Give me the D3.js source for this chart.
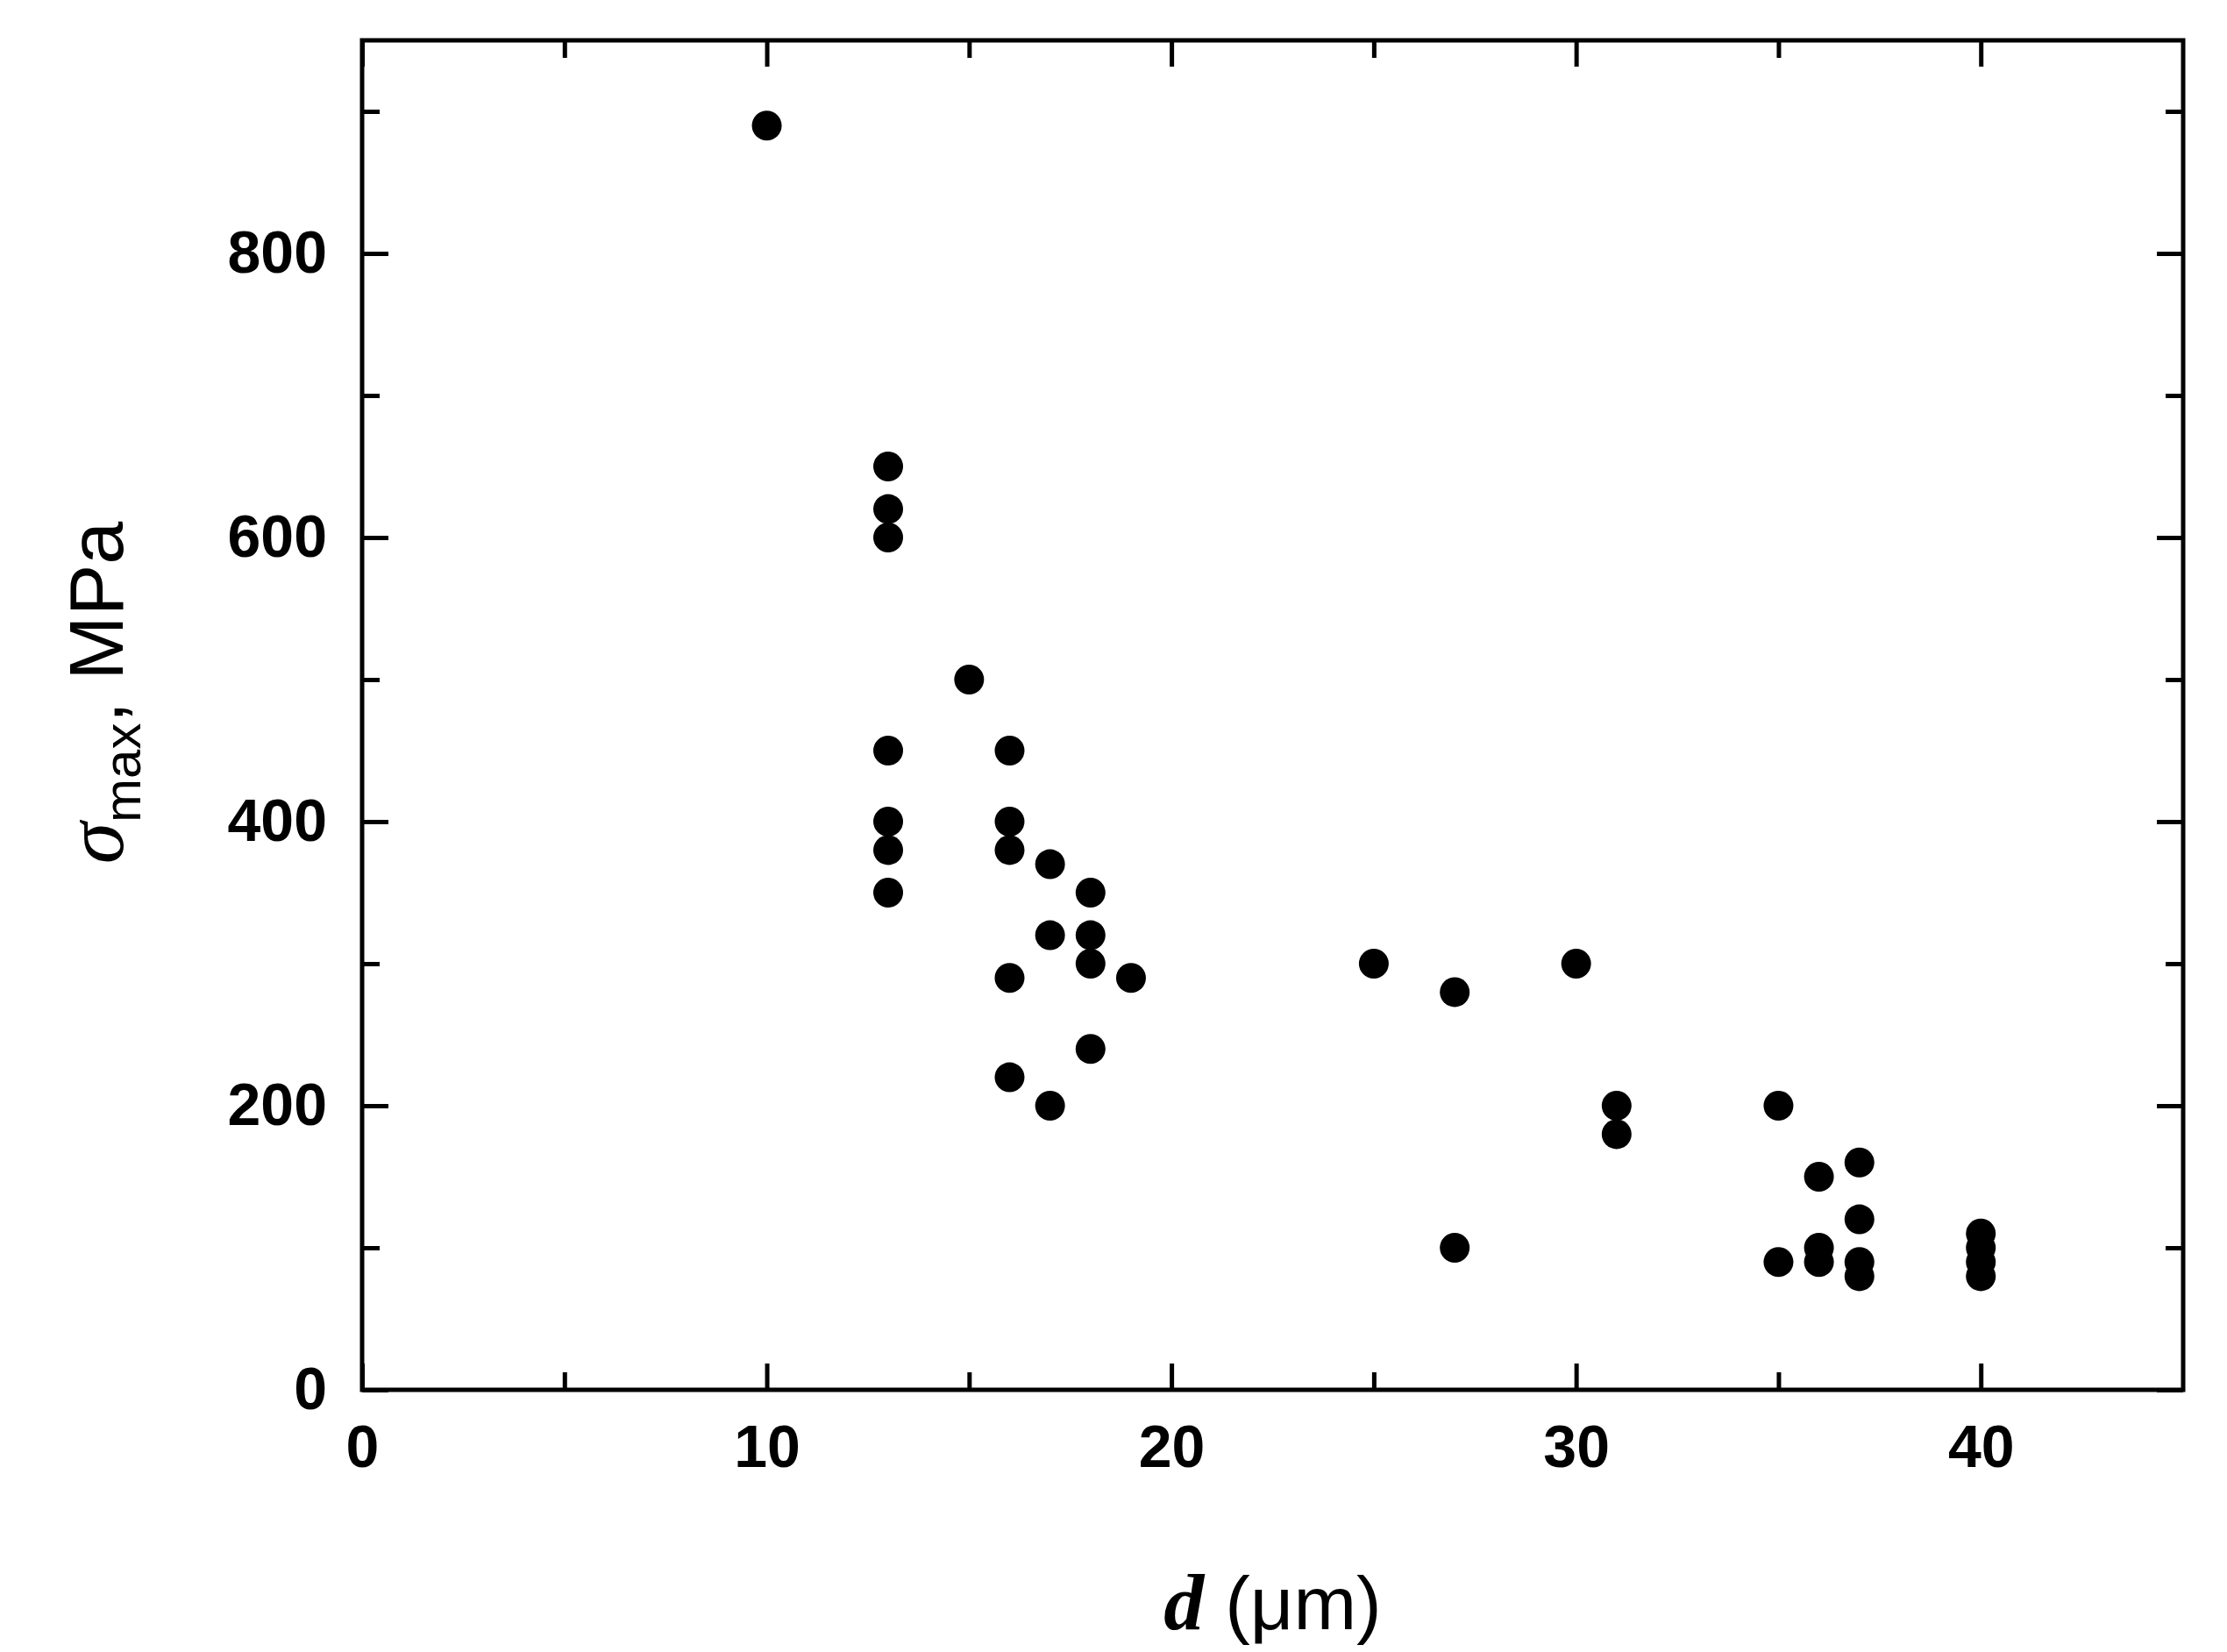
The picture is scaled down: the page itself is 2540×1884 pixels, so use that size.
<!DOCTYPE html>
<html><head><meta charset="utf-8">
<script src="https://cdn.jsdelivr.net/npm/d3@7"></script>
<style>body{margin:0;background:#fff}</style></head>
<body><svg id="c" width="2540" height="1884"></svg>
<script>
const xs = [10,13,13,13,13,13,13,13,15,16,16,16,16,16,17,17,17,18,18,18,18,19,25,27,27,30,31,31,35,35,36,36,36,37,37,37,37,40,40,40,40];
const ys = [890,650,620,600,450,400,380,350,500,450,400,380,290,220,370,320,200,350,320,300,240,290,300,280,100,300,200,180,200,90,150,100,90,160,120,90,80,110,100,90,80];
const xTicks = [0,10,20,30,40];
const yTicks = [0,200,400,600,800];
const svg = d3.select("#c");
const L=413,R=2490,T=46,B=1585;
const x = d3.scaleLinear().domain([0,45]).range([L,R]);
const y = d3.scaleLinear().domain([0,950]).range([B,T]);
const font='"Liberation Sans",Arial,sans-serif';
function ax(gen,tr,vals,size,fmt){
  const g=svg.append("g").attr("transform",tr).call(gen.tickValues(vals).tickSize(size).tickSizeOuter(0).tickFormat(fmt));
  g.select(".domain").remove();
  g.selectAll("line").attr("stroke","#000").attr("stroke-width",5);
  return g;
}
const xMin=d3.range(5,45,10), yMin=d3.range(100,950,200);
let g=ax(d3.axisBottom(x),`translate(0,${B})`,xTicks,-30,d3.format("d"));
g.selectAll("text").attr("y",40).attr("dy","0.71em").style("font",`bold 68px ${font}`);
ax(d3.axisBottom(x),`translate(0,${B})`,xMin,-20,"");
ax(d3.axisTop(x),`translate(0,${T})`,xTicks,-30,"");
ax(d3.axisTop(x),`translate(0,${T})`,xMin,-20,"");
g=ax(d3.axisLeft(y),`translate(${L},0)`,yTicks,-30,d3.format("d"));
g.selectAll("text").attr("x",-40).style("font",`bold 68px ${font}`);
ax(d3.axisLeft(y),`translate(${L},0)`,yMin,-20,"");
ax(d3.axisRight(y),`translate(${R},0)`,yTicks,-30,"");
ax(d3.axisRight(y),`translate(${R},0)`,yMin,-20,"");
svg.append("rect").attr("x",L).attr("y",T).attr("width",R-L).attr("height",B-T)
  .attr("fill","none").attr("stroke","#000").attr("stroke-width",5);
svg.append("g").selectAll("circle").data(xs).join("circle")
  .attr("cx",d=>x(d)).attr("cy",(d,i)=>y(ys[i])).attr("r",17).attr("fill","#000");
const xl=svg.append("text").attr("x",(L+R)/2).attr("y",1858).attr("text-anchor","middle")
  .style("font",`86px ${font}`);
xl.append("tspan").text("d").style("font",`italic bold 92px "Liberation Serif",serif`);
xl.append("tspan").text(" (μm)");
const yl=svg.append("text").attr("transform","translate(140,790) rotate(-90)").attr("text-anchor","middle")
  .style("font",`88px ${font}`);
yl.append("tspan").text("σ").style("font",`italic 96px "Liberation Serif",serif`);
yl.append("tspan").text("max").attr("dy",20).style("font-size","60px");
yl.append("tspan").text(", MPa").attr("dy",-20);
</script></body></html>
